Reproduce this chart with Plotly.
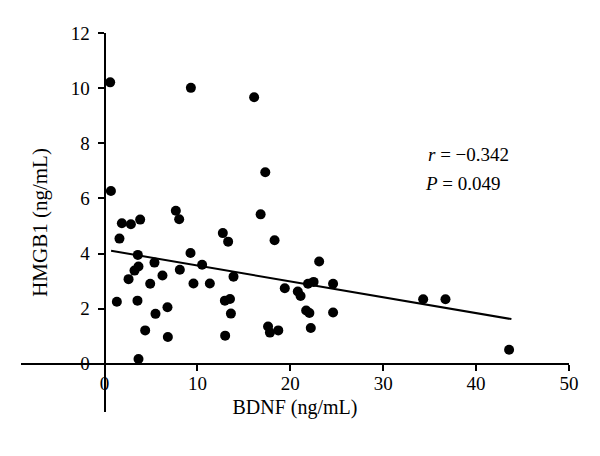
import plotly.graph_objects as go

# BDNF (ng/mL) values
bdnf = [0.6, 0.68, 1.32, 1.6, 1.86, 2.83, 3.83, 3.58, 3.65, 3.22,
        2.58, 3.54, 4.37, 3.65, 4.91, 5.37, 6.23, 5.48, 6.77, 6.81,
        7.67, 8.03, 8.1, 9.25, 9.57, 10.5, 11.33, 12.73, 13.3, 13.88,
        12.95, 13.5, 13.6, 12.98, 9.29, 17.3, 16.8, 18.3, 23.1, 19.4,
        20.8, 21.1, 21.9, 22.5, 24.6, 21.7, 22.05, 24.6, 17.6, 17.8,
        18.7, 22.2, 16.1, 34.3, 36.7, 43.55]
# HMGB1 (ng/mL) values
hmgb1 = [10.21, 6.27, 2.25, 4.54, 5.10, 5.06, 5.23, 3.95, 3.53, 3.38,
         3.07, 2.29, 1.21, 0.17, 2.90, 3.67, 3.20, 1.81, 2.05, 0.97,
         5.55, 5.24, 3.41, 4.02, 2.91, 3.59, 2.91, 4.74, 4.43, 3.16,
         2.29, 2.35, 1.82, 1.02, 10.01, 6.95, 5.42, 4.48, 3.71, 2.74,
         2.62, 2.46, 2.90, 2.97, 2.90, 1.93, 1.84, 1.86, 1.35, 1.13,
         1.21, 1.30, 9.67, 2.34, 2.34, 0.51]

# Regression line end points (as drawn)
fit_x = [0.7, 43.8]
fit_y = [4.10, 1.62]

x_ticks = [0, 10, 20, 30, 40, 50]
y_ticks = [0, 2, 4, 6, 8, 10, 12]

x_range = [-9, 50]
y_range = [-1.75, 12]

font_family = "Liberation Serif, Times New Roman, serif"

fig = go.Figure()
fig.add_trace(go.Scatter(
    x=bdnf, y=hmgb1, mode="markers",
    marker=dict(color="black", size=10, line=dict(width=0)),
    showlegend=False, hoverinfo="skip"))
fig.add_trace(go.Scatter(
    x=fit_x, y=fit_y, mode="lines",
    line=dict(color="black", width=2),
    showlegend=False, hoverinfo="skip"))

fig.update_layout(
    width=592, height=448,
    margin=dict(l=13, r=31, t=25, b=44),
    paper_bgcolor="white", plot_bgcolor="white",
    font=dict(family=font_family, color="black", size=19),
    xaxis=dict(
        range=x_range, tickvals=x_ticks, ticktext=[str(v) for v in x_ticks],
        showgrid=False, zeroline=False, showline=True, linecolor="black", linewidth=2,
        ticks="outside", ticklen=6, tickwidth=2, tickcolor="black",
        ticklabelstandoff=-4,
        anchor="free", position=(0 - y_range[0]) / (y_range[1] - y_range[0]),
        title=dict(text="BDNF (ng/mL)", standoff=6, font=dict(size=20)),
        tickfont=dict(size=19), automargin=False),
    yaxis=dict(
        range=y_range, tickvals=y_ticks, ticktext=[str(v) for v in y_ticks],
        showgrid=False, zeroline=False, showline=True, linecolor="black", linewidth=2,
        ticks="outside", ticklen=6, tickwidth=2, tickcolor="black",
        ticklabelstandoff=4,
        anchor="free", position=(0 - x_range[0]) / (x_range[1] - x_range[0]),
        title=dict(text="HMGB1 (ng/mL)", standoff=16, font=dict(size=21)),
        tickfont=dict(size=19), automargin=False),
    annotations=[
        dict(x=34.6, y=7.6, xref="x", yref="y", xanchor="left", yanchor="middle",
             text="<i>r</i> = \u22120.342", showarrow=False, font=dict(size=19)),
        dict(x=34.3, y=6.55, xref="x", yref="y", xanchor="left", yanchor="middle",
             text="<i>P</i> = 0.049", showarrow=False, font=dict(size=19)),
    ],
)

fig.write_html("out.html")
